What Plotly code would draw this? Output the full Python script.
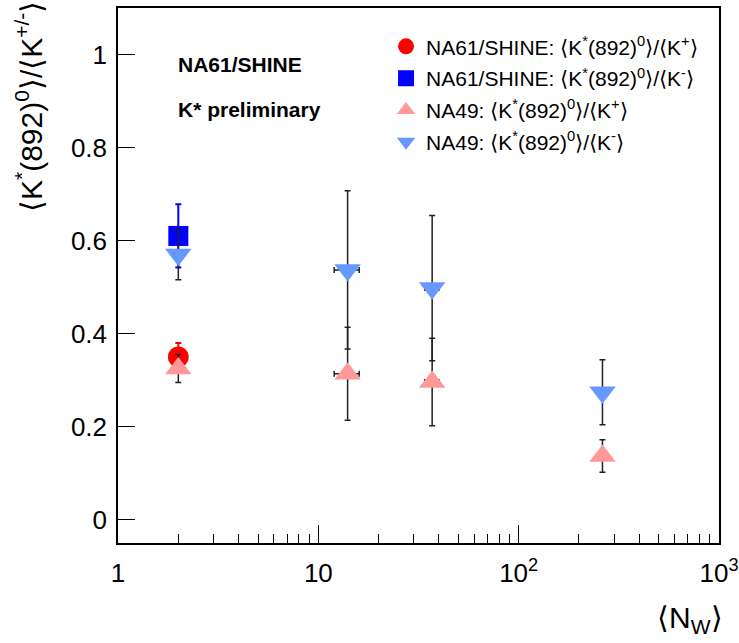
import plotly.graph_objects as go

# NA61/SHINE p+p point
na61_nw = [2.0]
na61_kp = [0.35]
na61_kp_err = [0.03]
na61_km = [0.61]
na61_km_err = [0.068]

# NA49 points: p+p, C+C, Si+Si, Pb+Pb
na49_nw = [2.0, 14.0, 37.0, 262.0]
na49_nw_err = [0.0, 2.0, 3.0, 0.0]
na49_kp = [0.325, 0.314, 0.296, 0.137]
na49_kp_err = [0.03, 0.10, 0.094, 0.035]
na49_km = [0.57, 0.537, 0.498, 0.274]
na49_km_err = [0.054, 0.17, 0.156, 0.07]

x_tickvals = [1, 10, 100, 1000]
x_ticktext = ["1", "10", "10<sup>2</sup>", "10<sup>3</sup>"]
y_tickvals = [0, 0.2, 0.4, 0.6, 0.8, 1.0]
y_ticktext = ["0", "0.2", "0.4", "0.6", "0.8", "1"]

FONT = "Liberation Sans, Arial, Helvetica, sans-serif"
RED = "#ff0000"
BLUE = "#0000ff"
PINK = "#ff9999"
LBLUE = "#6699ff"
ERR = "#222222"

fig = go.Figure()

fig.add_trace(go.Scatter(
    x=na61_nw, y=na61_kp, mode="markers", legendgroup="a",
    name="NA61/SHINE: ⟨K<sup>*</sup>(892)<sup>0</sup>⟩/⟨K<sup>+</sup>⟩",
    marker=dict(symbol="circle", size=21, color=RED, line=dict(width=0)),
    error_y=dict(type="data", array=na61_kp_err, color=RED, thickness=2, width=3),
))
fig.add_trace(go.Scatter(
    x=na61_nw, y=na61_km, mode="markers", legendgroup="b",
    name="NA61/SHINE: ⟨K<sup>*</sup>(892)<sup>0</sup>⟩/⟨K<sup>-</sup>⟩",
    marker=dict(symbol="square", size=20, color=BLUE, line=dict(width=0)),
    error_y=dict(type="data", array=na61_km_err, color=BLUE, thickness=2, width=3),
))
fig.add_trace(go.Scatter(
    x=na49_nw, y=na49_kp, mode="markers", legendgroup="c",
    name="NA49: ⟨K<sup>*</sup>(892)<sup>0</sup>⟩/⟨K<sup>+</sup>⟩",
    marker=dict(symbol="triangle-up", size=23, color=PINK, line=dict(width=0)),
    error_y=dict(type="data", array=na49_kp_err, color=ERR, thickness=1.5, width=3),
    error_x=dict(type="data", array=na49_nw_err, color=ERR, thickness=1.5, width=3),
))
fig.add_trace(go.Scatter(
    x=na49_nw, y=na49_km, mode="markers", legendgroup="d",
    name="NA49: ⟨K<sup>*</sup>(892)<sup>0</sup>⟩/⟨K<sup>-</sup>⟩",
    marker=dict(symbol="triangle-down", size=23, color=LBLUE, line=dict(width=0)),
    error_y=dict(type="data", array=na49_km_err, color=ERR, thickness=1.5, width=3),
    error_x=dict(type="data", array=na49_nw_err, color=ERR, thickness=1.5, width=3),
))

minor_vals = [m * 10 ** d for d in range(3) for m in range(2, 10)]

fig.update_xaxes(
    type="log", range=[0, 3], automargin=False,
    tickmode="array", tickvals=x_tickvals, ticktext=x_ticktext,
    ticks="inside", ticklen=18, tickwidth=1, tickcolor="black",
    minor=dict(tickvals=minor_vals, ticks="inside", ticklen=9, tickwidth=1,
               tickcolor="black", showgrid=False),
    showline=True, linecolor="black", linewidth=1.5, mirror=True,
    showgrid=False, zeroline=False,
    tickfont=dict(family=FONT, size=26, color="black"),
    ticklabelstandoff=6,
)
fig.update_yaxes(
    range=[-0.05, 1.1], automargin=False,
    tickmode="array", tickvals=y_tickvals, ticktext=y_ticktext,
    ticks="inside", ticklen=17, tickwidth=1, tickcolor="black",
    showline=True, linecolor="black", linewidth=1.5, mirror=True,
    showgrid=False, zeroline=False,
    tickfont=dict(family=FONT, size=26, color="black"),
    ticklabelstandoff=4,
)

fig.add_annotation(
    text="⟨K<sup>*</sup>(892)<sup>0</sup>⟩/⟨K<sup>+/-</sup>⟩",
    xref="paper", yref="paper", x=-0.147, y=1.017,
    xanchor="center", yanchor="top", textangle=-90, showarrow=False,
    font=dict(family=FONT, size=30, color="black"),
)
fig.add_annotation(
    text="⟨N<sub>W</sub>⟩",
    xref="paper", yref="paper", x=1.01, y=-0.104,
    xanchor="right", yanchor="top", showarrow=False,
    font=dict(family=FONT, size=30, color="black"),
)
fig.add_annotation(
    text="<b>NA61/SHINE</b>",
    xref="paper", yref="paper", x=0.097, y=0.895,
    xanchor="left", yanchor="middle", showarrow=False,
    font=dict(family=FONT, size=21, color="black"),
)
fig.add_annotation(
    text="<b>K* preliminary</b>",
    xref="paper", yref="paper", x=0.097, y=0.811,
    xanchor="left", yanchor="middle", showarrow=False,
    font=dict(family=FONT, size=21, color="black"),
)

fig.update_layout(
    template="none",
    width=739, height=643,
    margin=dict(l=118, r=20, t=8, b=100),
    paper_bgcolor="white", plot_bgcolor="white",
    font=dict(family=FONT, color="black"),
    legend=dict(
        x=0.446, y=0.966, xanchor="left", yanchor="top",
        bgcolor="rgba(0,0,0,0)", borderwidth=0,
        font=dict(family=FONT, size=21, color="black"),
        traceorder="grouped", tracegroupgap=1.5,
    ),
    showlegend=True,
)

fig.write_html("out.html")
